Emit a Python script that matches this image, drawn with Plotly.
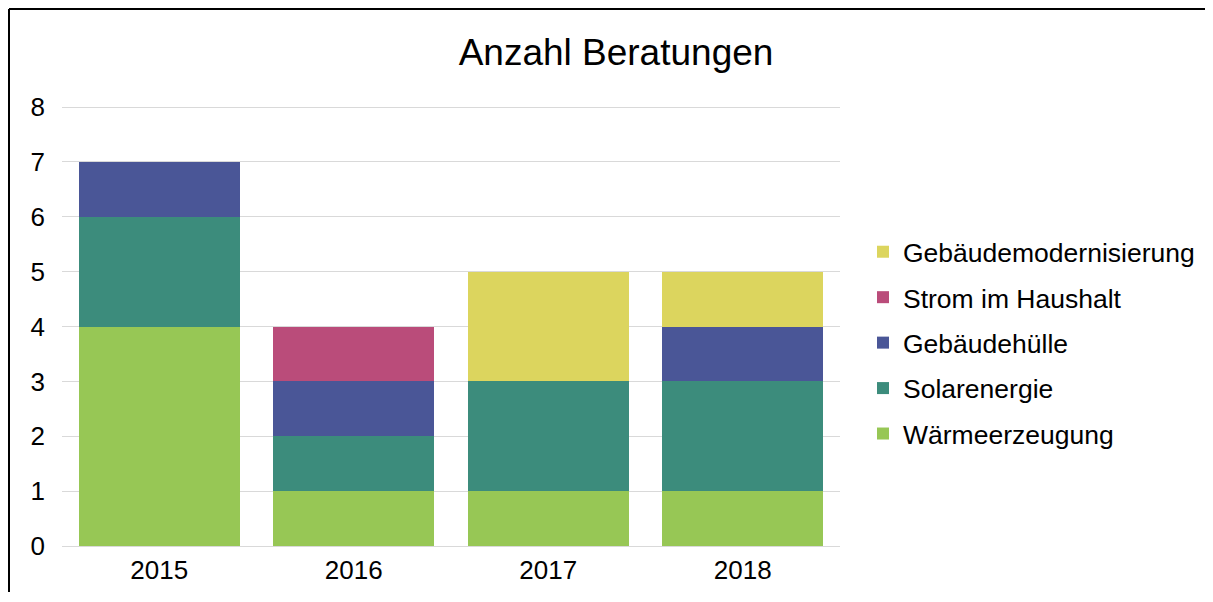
import plotly.graph_objects as go

years = ["2015", "2016", "2017", "2018"]
waerme = [4, 1, 1, 1]
solar = [2, 1, 2, 2]
huelle = [1, 1, 0, 1]
strom = [0, 1, 0, 0]
modern = [0, 0, 2, 1]

series = [
    ("Wärmeerzeugung", waerme, "#97C755"),
    ("Solarenergie", solar, "#3C8C7C"),
    ("Gebäudehülle", huelle, "#4A5697"),
    ("Strom im Haushalt", strom, "#BA4C7A"),
    ("Gebäudemodernisierung", modern, "#DCD55E"),
]

fig = go.Figure()
n = len(series)
for i, (name, vals, col) in enumerate(series):
    fig.add_trace(go.Bar(x=years, y=vals, name=name, marker=dict(color=col, line=dict(width=0)),
                         legendgroup=str(i), legendrank=n - i))

OFF = 8  # page body margin
W, H = 1213 - 2 * OFF, 602 - 2 * OFF - 2
L = 62 - OFF
T = 106 - OFF
R = W - (840 - OFF)
B = H - (546 - OFF)
pw, ph = W - L - R, H - T - B

bx = (9 - OFF - L) / pw
by = (546 - 9) / ph

fig.update_layout(
    width=W, height=H,
    margin=dict(l=L, r=R, t=T, b=B),
    barmode="stack", bargap=0.17,
    plot_bgcolor="white", paper_bgcolor="white",
    font=dict(family="Liberation Sans, Arial, sans-serif", size=26, color="#000000"),
    title=dict(text="Anzahl Beratungen", x=(616 - OFF) / W, xanchor="center", y=1 - (52 - OFF) / H,
               yanchor="middle", font=dict(size=37, color="#000000")),
    xaxis=dict(showgrid=False, showline=False, ticks="", tickfont=dict(size=26), ticklabelstandoff=6,
               automargin=False),
    yaxis=dict(range=[0, 8.02], dtick=1, showgrid=True, gridcolor="#D9D9D9", gridwidth=1.3,
               zeroline=True, zerolinecolor="#D9D9D9", zerolinewidth=1.3, automargin=False,
               showline=False, ticks="", tickfont=dict(size=26), ticklabelstandoff=16),
    legend=dict(traceorder="grouped", xref="container", yref="container",
                x=(863 - OFF) / W, xanchor="left",
                y=1 - (343 - OFF) / H, yanchor="middle", font=dict(size=26.5),
                tracegroupgap=8, itemwidth=30),
    shapes=[
        dict(type="line", xref="paper", yref="paper", x0=bx, x1=bx, y0=(546 - 900) / ph, y1=by,
             line=dict(color="black", width=2), layer="below"),
        dict(type="line", xref="paper", yref="paper", x0=bx, x1=(1600 - OFF - L) / pw, y0=by, y1=by,
             line=dict(color="black", width=2), layer="below"),
    ],
)

fig.write_html("out.html")
